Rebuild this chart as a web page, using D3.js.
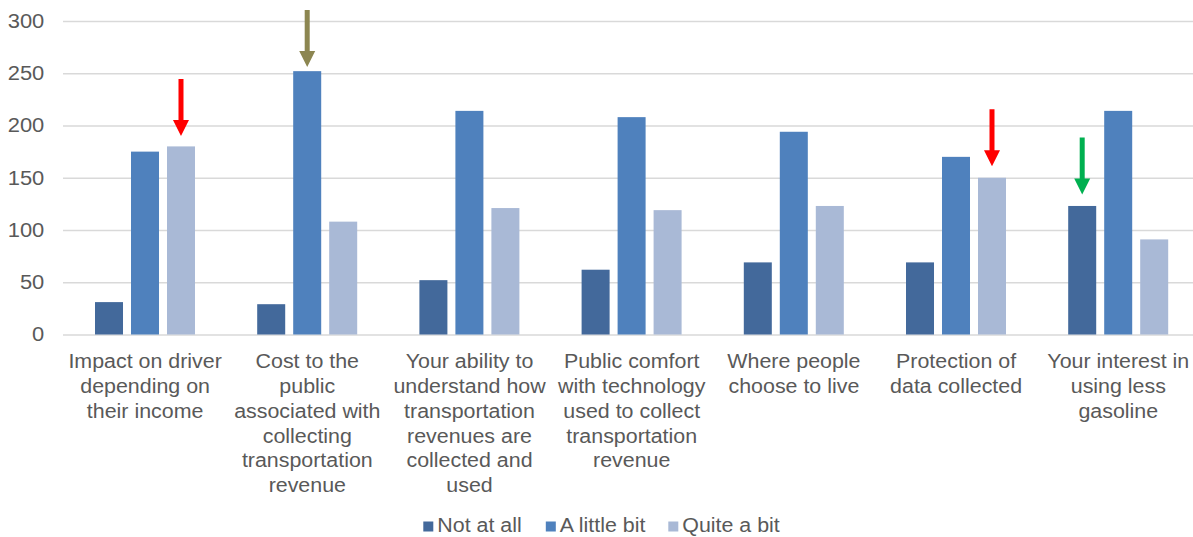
<!DOCTYPE html>
<html>
<head>
<meta charset="utf-8">
<script src="https://cdn.jsdelivr.net/npm/d3@7"></script>
<style>
  html, body { margin: 0; padding: 0; background: #ffffff; }
  svg { display: block; font-family: Arial, "Liberation Sans", sans-serif; }
</style>
</head>
<body>
<script>
// ---------------- data ----------------
const categories = [
  "Impact on driver depending on their income",
  "Cost to the public associated with collecting transportation revenue",
  "Your ability to understand how transportation revenues are collected and used",
  "Public comfort with technology used to collect transportation revenue",
  "Where people choose to live",
  "Protection of data collected",
  "Your interest in using less gasoline"
];
const categoryLines = [
  ["Impact on driver", "depending on", "their income"],
  ["Cost to the", "public", "associated with", "collecting", "transportation", "revenue"],
  ["Your ability to", "understand how", "transportation", "revenues are", "collected and", "used"],
  ["Public comfort", "with technology", "used to collect", "transportation", "revenue"],
  ["Where people", "choose to live"],
  ["Protection of", "data collected"],
  ["Your interest in", "using less", "gasoline"]
];
const seriesNames = ["Not at all", "A little bit", "Quite a bit"];
const notAtAll   = [31, 29, 52, 62, 69, 69, 123];
const aLittleBit = [175, 252, 214, 208, 194, 170, 214];
const quiteABit  = [180, 108, 121, 119, 123, 150, 91];
const yTicks = [0, 50, 100, 150, 200, 250, 300];

// annotation arrows: which bar they point at and the value where the tip sits
const arrowCategory = [0, 1, 5, 6];
const arrowSeries   = ["Quite a bit", "A little bit", "Quite a bit", "Not at all"];
const arrowTipValue = [190, 256, 161, 134];
const arrowKind     = ["red", "olive", "red", "green"];

// ---------------- styles ----------------
const seriesColor = { "Not at all": "#43699b", "A little bit": "#4f81bd", "Quite a bit": "#a9b9d6" };
const arrowColor = { red: "#ff0000", olive: "#8c8651", green: "#00b050" };
const textColor = "#595959";
const gridColor = "#d9d9d9";
const fontSize = 20;
const stretch = 1.07;

// ---------------- layout ----------------
const W = 1193, H = 537;
const svg = d3.select("body").append("svg").attr("width", W).attr("height", H);

const y = d3.scaleLinear().domain([0, 300]).range([334.5, 21]);
const x0 = d3.scaleBand().domain(categories).range([64, 1199.4]).padding(0);
const x1 = d3.scaleBand().domain(seriesNames).range([31, 131]).paddingInner(0.222).paddingOuter(0);

const seriesValues = { "Not at all": notAtAll, "A little bit": aLittleBit, "Quite a bit": quiteABit };

// gridlines + y labels
const yAxis = d3.axisLeft(y).tickValues(yTicks).tickSize(-(W + 10 - 63)).tickPadding(17.5).tickFormat(d3.format("d"));
const gAxis = svg.append("g").attr("transform", "translate(63,0)").call(yAxis);
gAxis.select(".domain").remove();
gAxis.selectAll(".tick line").attr("stroke", gridColor).attr("stroke-width", 1.3);
gAxis.selectAll(".tick text")
  .attr("fill", textColor)
  .attr("font-size", fontSize + 0.5)
  .attr("font-family", "Arial, 'Liberation Sans', sans-serif")
  .attr("dy", "0.31em")
  .attr("transform", `scale(${stretch},1)`);

// bars
const groups = svg.append("g").selectAll("g.cat")
  .data(categories)
  .join("g")
  .attr("class", "cat")
  .attr("transform", d => `translate(${x0(d)},0)`);

groups.selectAll("rect")
  .data((d, i) => seriesNames.map(s => ({ s, v: seriesValues[s][i] })))
  .join("rect")
  .attr("x", d => x1(d.s))
  .attr("width", x1.bandwidth())
  .attr("y", d => y(d.v))
  .attr("height", d => y(0) - y(d.v))
  .attr("fill", d => seriesColor[d.s]);

// category labels
const lineH = 24.8;
const labelG = svg.append("g").selectAll("g.lab")
  .data(categories)
  .join("g")
  .attr("class", "lab")
  .attr("transform", d => `translate(${x0(d) + x0.bandwidth() / 2},368.3) scale(${stretch},1)`);
labelG.append("text")
  .attr("text-anchor", "middle")
  .attr("fill", textColor)
  .attr("font-size", fontSize)
  .selectAll("tspan")
  .data((d, i) => categoryLines[i])
  .join("tspan")
  .attr("x", 0)
  .attr("y", (d, j) => j * lineH)
  .text(d => d);

// arrows
const arrowLen = 57, headLen = 16, headW = 16, shaftW = 5;
arrowCategory.forEach((ci, k) => {
  const cx = x0(categories[ci]) + x1(arrowSeries[k]) + x1.bandwidth() / 2;
  const tip = y(arrowTipValue[k]);
  const top = tip - arrowLen;
  const hs = tip - headLen;
  const pts = [
    [cx - shaftW / 2, top], [cx + shaftW / 2, top], [cx + shaftW / 2, hs],
    [cx + headW / 2, hs], [cx, tip], [cx - headW / 2, hs], [cx - shaftW / 2, hs]
  ];
  svg.append("polygon")
    .attr("points", pts.map(p => p.join(",")).join(" "))
    .attr("fill", arrowColor[arrowKind[k]]);
});

// legend
const legendX = d3.scaleBand().domain(seriesNames).range([423.3, 423.3 + 3 * 122.5]);
const legendBase = 532;
const lg = svg.append("g").selectAll("g.leg")
  .data(seriesNames)
  .join("g")
  .attr("class", "leg")
  .attr("transform", d => `translate(${legendX(d)},0)`);
lg.append("rect")
  .attr("x", 0).attr("y", legendBase - 10.5)
  .attr("width", 10).attr("height", 10)
  .attr("fill", d => seriesColor[d]);
lg.append("g")
  .attr("transform", `translate(14,${legendBase}) scale(${stretch},1)`)
  .append("text")
  .attr("fill", textColor)
  .attr("font-size", fontSize)
  .text(d => d);
</script>
</body>
</html>
